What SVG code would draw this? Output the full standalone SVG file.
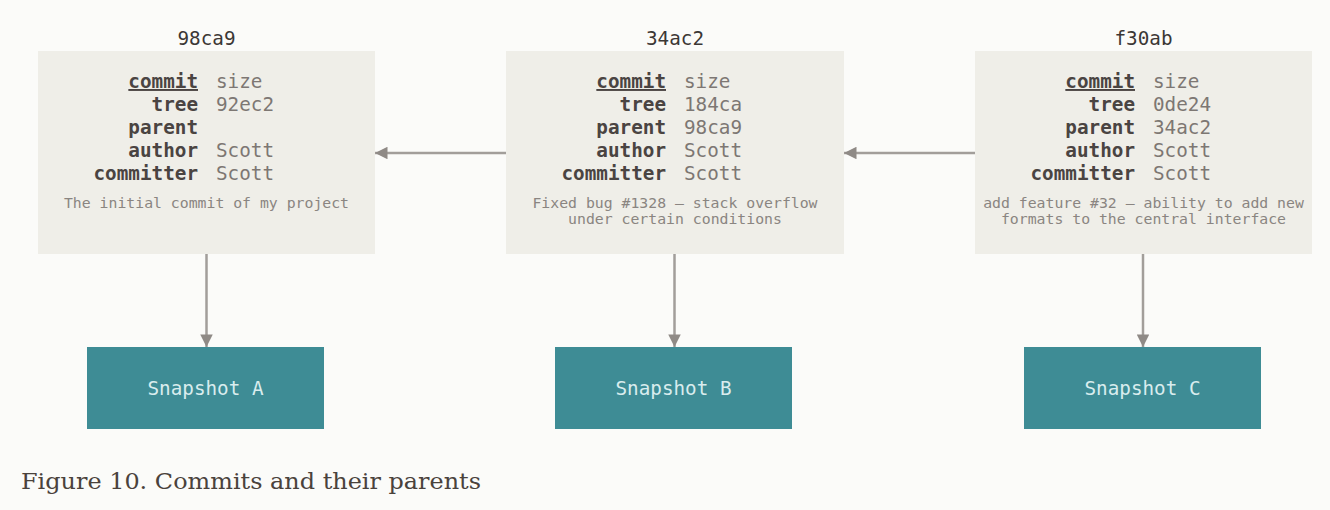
<svg xmlns="http://www.w3.org/2000/svg" width="1330" height="510" viewBox="0 0 1330 510">
<style>
.bg{fill:#fbfbf9}
.box{fill:#efeee8}
.snap{fill:#3e8c95}
.mono{font-family:"DejaVu Sans Mono","Liberation Mono",monospace}
.title{font-size:19.3px;fill:#3b3735;text-anchor:middle}
.key{font-size:19.3px;font-weight:bold;fill:#4a4442;text-anchor:end}
.val{font-size:19.3px;fill:#7d7773}
.msg{font-size:14.8px;fill:#8a8581;text-anchor:middle}
.stxt{font-size:19.3px;fill:#d9ecee;text-anchor:middle}
.conn{stroke:#a29e9a;stroke-width:2.5;fill:none}
.cap{font-family:"DejaVu Serif","Liberation Serif",serif;font-size:23px;fill:#4a423c}
</style>
<defs>
<marker id="ah" viewBox="0 0 10 10" refX="10" refY="5" markerWidth="8" markerHeight="5" markerUnits="strokeWidth" orient="auto">
<path d="M0,0 L10,5 L0,10 z" fill="#8f8a86"/>
</marker>
</defs>
<rect class="bg" x="0" y="0" width="1330" height="510"/>

<g id="commit-98ca9" class="mono">
<rect class="box" x="38" y="51" width="337" height="203"/>
<text class="title" x="206.5" y="45">98ca9</text>
<text class="key" x="198" y="88" text-decoration="underline">commit</text>
<text class="val" x="216" y="88">size</text>
<text class="key" x="198" y="111">tree</text>
<text class="val" x="216" y="111">92ec2</text>
<text class="key" x="198" y="134">parent</text>
<text class="key" x="198" y="157">author</text>
<text class="val" x="216" y="157">Scott</text>
<text class="key" x="198" y="180">committer</text>
<text class="val" x="216" y="180">Scott</text>
<text class="msg" x="206.5" y="208">The initial commit of my project</text>
</g>

<g id="commit-34ac2" class="mono">
<rect class="box" x="506" y="51" width="338" height="203"/>
<text class="title" x="675" y="45">34ac2</text>
<text class="key" x="666" y="88" text-decoration="underline">commit</text>
<text class="val" x="684" y="88">size</text>
<text class="key" x="666" y="111">tree</text>
<text class="val" x="684" y="111">184ca</text>
<text class="key" x="666" y="134">parent</text>
<text class="val" x="684" y="134">98ca9</text>
<text class="key" x="666" y="157">author</text>
<text class="val" x="684" y="157">Scott</text>
<text class="key" x="666" y="180">committer</text>
<text class="val" x="684" y="180">Scott</text>
<text class="msg" x="675" y="208">Fixed bug #1328 – stack overflow</text>
<text class="msg" x="675" y="224">under certain conditions</text>
</g>

<g id="commit-f30ab" class="mono">
<rect class="box" x="975" y="51" width="337" height="203"/>
<text class="title" x="1143.5" y="45">f30ab</text>
<text class="key" x="1135" y="88" text-decoration="underline">commit</text>
<text class="val" x="1153" y="88">size</text>
<text class="key" x="1135" y="111">tree</text>
<text class="val" x="1153" y="111">0de24</text>
<text class="key" x="1135" y="134">parent</text>
<text class="val" x="1153" y="134">34ac2</text>
<text class="key" x="1135" y="157">author</text>
<text class="val" x="1153" y="157">Scott</text>
<text class="key" x="1135" y="180">committer</text>
<text class="val" x="1153" y="180">Scott</text>
<text class="msg" x="1143.5" y="208">add feature #32 – ability to add new</text>
<text class="msg" x="1143.5" y="224">formats to the central interface</text>
</g>

<g id="snapshot-a" class="mono">
<rect class="snap" x="87" y="347" width="237" height="82"/>
<text class="stxt" x="205.5" y="395">Snapshot A</text>
</g>
<g id="snapshot-b" class="mono">
<rect class="snap" x="555" y="347" width="237" height="82"/>
<text class="stxt" x="673.5" y="395">Snapshot B</text>
</g>
<g id="snapshot-c" class="mono">
<rect class="snap" x="1024" y="347" width="237" height="82"/>
<text class="stxt" x="1142.5" y="395">Snapshot C</text>
</g>

<g id="connectors">
<line class="conn" x1="506" y1="153" x2="375" y2="153" marker-end="url(#ah)"/>
<line class="conn" x1="975" y1="153" x2="844" y2="153" marker-end="url(#ah)"/>
<line class="conn" x1="206.5" y1="254" x2="206.5" y2="347" marker-end="url(#ah)"/>
<line class="conn" x1="674.5" y1="254" x2="674.5" y2="347" marker-end="url(#ah)"/>
<line class="conn" x1="1143" y1="254" x2="1143" y2="347" marker-end="url(#ah)"/>
</g>

<text class="cap" x="21" y="489" textLength="460" lengthAdjust="spacingAndGlyphs">Figure 10. Commits and their parents</text>
</svg>
